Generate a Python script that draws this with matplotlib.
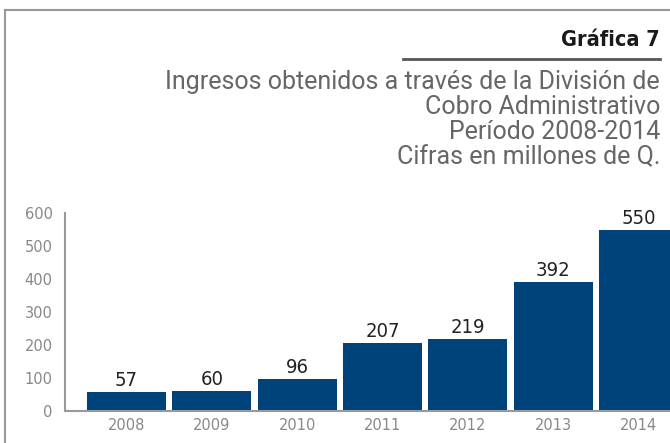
import matplotlib
matplotlib.use("Agg")
import matplotlib.pyplot as plt
from matplotlib.lines import Line2D

years = ["2008", "2009", "2010", "2011", "2012", "2013", "2014"]
values = [57, 60, 96, 207, 219, 392, 550]
yticks = [0, 100, 200, 300, 400, 500, 600]

title = "Gráfica 7"
subtitle = ["Ingresos obtenidos a través de la División de",
            "Cobro Administrativo",
            "Período 2008-2014",
            "Cifras en millones de Q."]

W, H = 670, 443
fig = plt.figure(figsize=(W / 100, H / 100), dpi=100)

# frame lines of the page
fig.add_artist(Line2D([5 / W, 5 / W], [0, 1 - 10 / H], color="#999999", lw=1.5))
fig.add_artist(Line2D([5 / W, 1], [1 - 10 / H, 1 - 10 / H], color="#999999", lw=1.5))

fig.text(660 / W, 1 - 40 / H, title, ha="right", va="center",
         fontsize=15.5, fontweight="bold", color="#1a1a1a",
         family="DejaVu Sans", fontstretch="condensed")
fig.add_artist(Line2D([403 / W, 660 / W], [1 - 59 / H, 1 - 59 / H], color="#555555", lw=2))
for i, line in enumerate(subtitle):
    fig.text(660 / W, 1 - (82 + 25 * i) / H, line, ha="right", va="center",
             fontsize=18, color="#666666", family="Roboto")

ax = fig.add_axes([65 / W, 1 - 411 / H, 1 - 65 / W, (411 - 213) / H])
x = list(range(len(years)))
bars = ax.bar(x, values, width=0.925, color="#00427a")
for b, v in zip(bars, values):
    ax.text(b.get_x() + b.get_width() / 2, v + 6, str(v), ha="center", va="bottom",
            fontsize=14.5, color="#222222",
            family="DejaVu Sans", fontstretch="condensed")

ax.set_xlim(-0.72, 6.37)
ax.set_ylim(0, 600)
ax.set_xticks(x)
ax.set_xticklabels(years)
ax.set_yticks(yticks)
for s in ["top", "right"]:
    ax.spines[s].set_visible(False)
for s in ["left", "bottom"]:
    ax.spines[s].set_color("#999999")
    ax.spines[s].set_linewidth(1.5)
ax.tick_params(axis="both", length=0, colors="#888888", labelsize=10.5)
ax.tick_params(axis="y", pad=9)
ax.tick_params(axis="x", pad=5)

fig.savefig("out.png", dpi=100)
